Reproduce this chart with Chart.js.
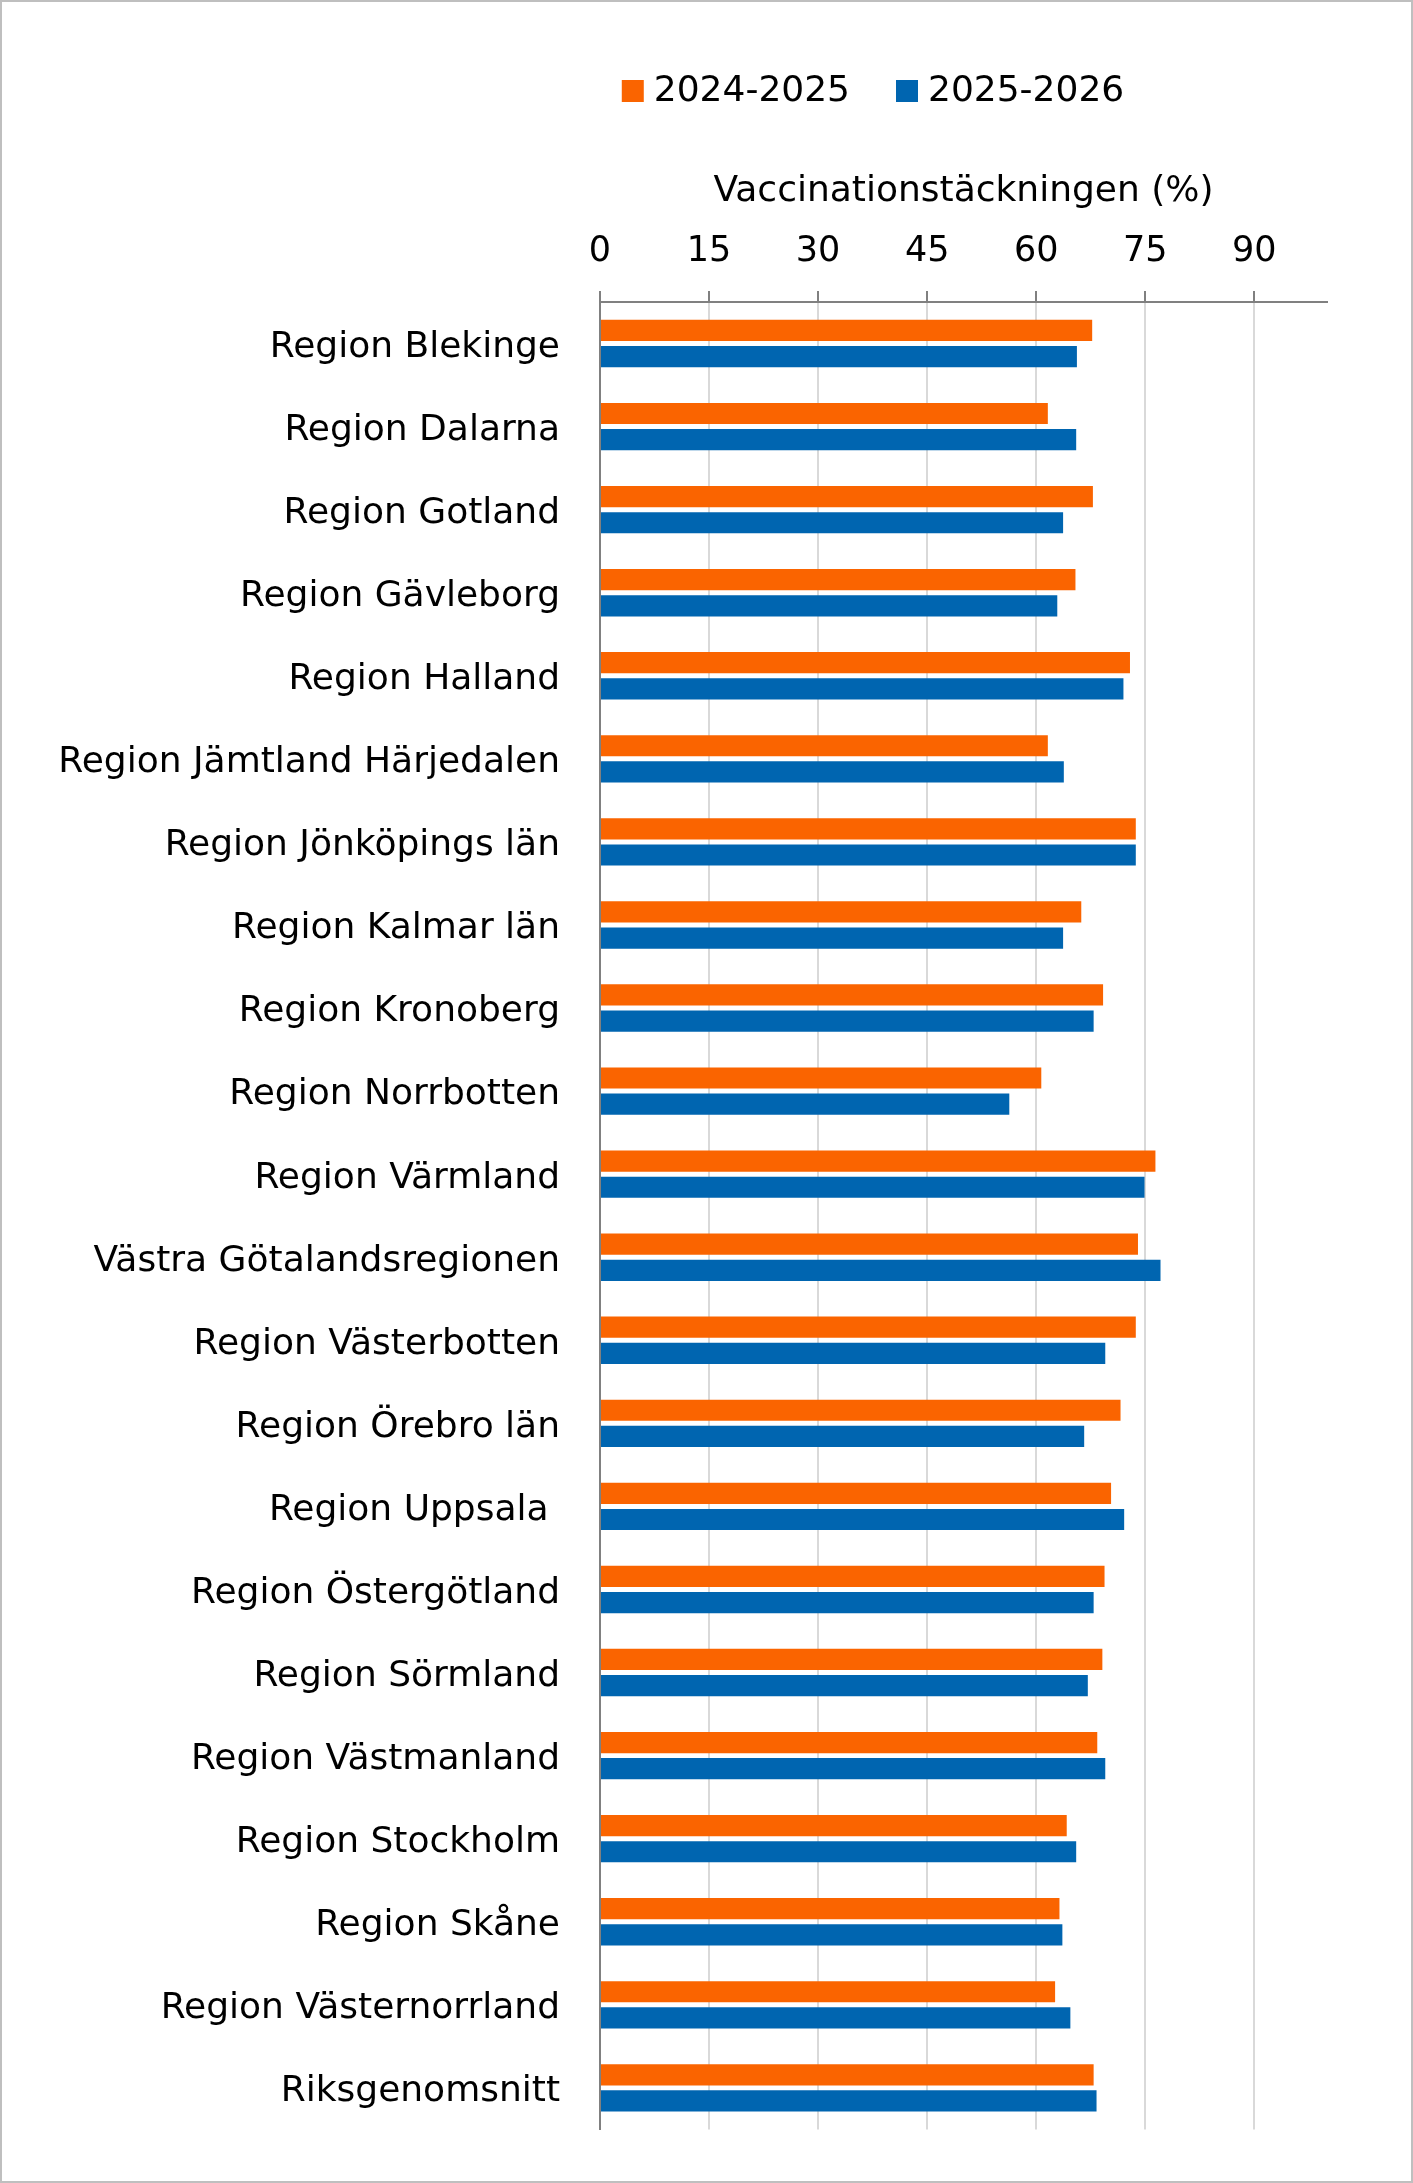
<!DOCTYPE html>
<html>
<head>
<meta charset="utf-8">
<script src="https://cdn.jsdelivr.net/npm/chart.js@4/dist/chart.umd.min.js"></script>
<style>
  html, body { margin: 0; padding: 0; background: #fff; }
  canvas { display: block; }
</style>
</head>
<body>
<canvas id="vaccChart" width="1413" height="2183"></canvas>
<script>
// regions, top to bottom
const regions = [
  'Region Blekinge', 'Region Dalarna', 'Region Gotland', 'Region Gävleborg',
  'Region Halland', 'Region Jämtland Härjedalen', 'Region Jönköpings län',
  'Region Kalmar län', 'Region Kronoberg', 'Region Norrbotten', 'Region Värmland',
  'Västra Götalandsregionen', 'Region Västerbotten', 'Region Örebro län',
  'Region Uppsala ', 'Region Östergötland', 'Region Sörmland', 'Region Västmanland',
  'Region Stockholm', 'Region Skåne', 'Region Västernorrland', 'Riksgenomsnitt'
];

// coverage in %
const season2024 = [67.7, 61.6, 67.8, 65.4, 72.9, 61.6, 73.7, 66.2, 69.2, 60.7, 76.4,
                    74.0, 73.7, 71.6, 70.3, 69.4, 69.1, 68.4, 64.2, 63.2, 62.6, 67.9];
const season2025 = [65.6, 65.5, 63.7, 62.9, 72.0, 63.8, 73.7, 63.7, 67.9, 56.3, 74.9,
                    77.1, 69.5, 66.6, 72.1, 67.9, 67.1, 69.5, 65.5, 63.6, 64.7, 68.3];

const seriesLabels = ['2024-2025', '2025-2026'];
const axisTitle = 'Vaccinationstäckningen (%)';
const xTickValues = [0, 15, 30, 45, 60, 75, 90];

const FONT = '"DejaVu Sans", sans-serif';
const FSIZE = 36;
const ORANGE = '#fa6400';
const BLUE = '#0065b0';

// white page + thin frame
const framePlugin = {
  id: 'frame',
  beforeDraw(chart) {
    const c = chart.ctx;
    c.save();
    c.fillStyle = '#fff';
    c.fillRect(0, 0, chart.width, chart.height);
    c.restore();
  },
  afterDraw(chart) {
    const c = chart.ctx;
    c.save();
    c.strokeStyle = '#bfbfbf';
    c.lineWidth = 2;
    c.strokeRect(1, 1, chart.width - 2, chart.height - 2);
    c.restore();
  }
};

// legend drawn by hand so it can sit where the original has it
const legendPlugin = {
  id: 'myLegend',
  afterDraw(chart) {
    const c = chart.ctx;
    const box = 22, gap = 10, itemGap = 46;
    c.save();
    c.font = FSIZE + 'px ' + FONT;
    c.textBaseline = 'middle';
    const items = chart.data.datasets.map(ds => ({
      text: ds.label, color: ds.backgroundColor, w: c.measureText(ds.label).width
    }));
    let total = 0;
    items.forEach((it, i) => { total += box + gap + it.w + (i ? itemGap : 0); });
    let x = 873 - total / 2;
    const y = 91;
    items.forEach(it => {
      c.fillStyle = it.color;
      c.fillRect(x, y - box / 2, box, box);
      c.fillStyle = '#000';
      c.fillText(it.text, x + box + gap, y + 1);
      x += box + gap + it.w + itemGap;
    });
    c.restore();
  }
};

new Chart(document.getElementById('vaccChart'), {
  type: 'bar',
  data: {
    labels: regions,
    datasets: [
      { label: seriesLabels[0], data: season2024, backgroundColor: ORANGE },
      { label: seriesLabels[1], data: season2025, backgroundColor: BLUE }
    ]
  },
  options: {
    indexAxis: 'y',
    responsive: false,
    devicePixelRatio: 1,
    animation: false,
    categoryPercentage: 0.63,
    barPercentage: 0.81,
    layout: { padding: { top: 130, right: 86, bottom: 52, left: 10 } },
    plugins: {
      legend: { display: false },
      tooltip: { enabled: false }
    },
    scales: {
      x: {
        position: 'top',
        min: 0,
        max: 100,
        afterBuildTicks: s => { s.ticks = xTickValues.map(v => ({ value: v })); },
        afterFit: s => { s.height = 172; },
        ticks: { color: '#000', padding: 18, font: { family: FONT, size: 35 } },
        grid: { color: '#d9d9d9', lineWidth: 2, tickColor: '#808080', tickLength: 11 },
        border: { color: '#808080', width: 2 },
        title: {
          display: true, text: axisTitle, color: '#000',
          font: { family: FONT, size: FSIZE }, padding: { top: 40, bottom: 0 }
        }
      },
      y: {
        afterFit: s => { s.width = 590; },
        ticks: { color: '#000', padding: 32, labelOffset: 4, font: { family: FONT, size: FSIZE } },
        grid: { display: false },
        border: { color: '#808080', width: 2 }
      }
    }
  },
  plugins: [framePlugin, legendPlugin]
});
</script>
</body>
</html>
